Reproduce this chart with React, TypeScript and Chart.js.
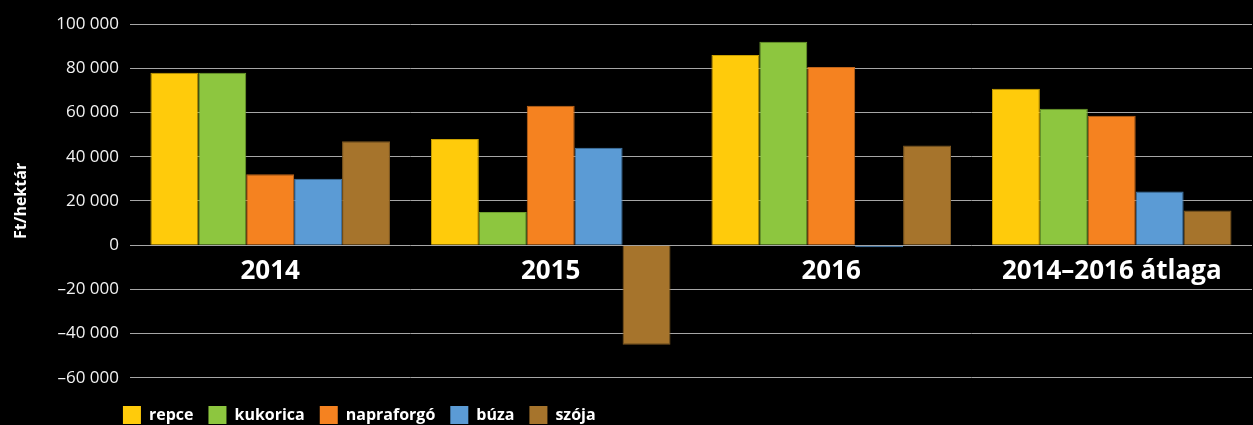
import React, { useEffect, useRef } from "react";
import { Chart, registerables } from "chart.js";

Chart.register(...registerables);

const categories = ["2014", "2015", "2016", "2014–2016 átlaga"];
const repce = [78000, 48000, 86000, 70700];
const kukorica = [78000, 15000, 92000, 61700];
const napraforgo = [32000, 63000, 80500, 58500];
const buza = [30000, 44000, -1000, 24300];
const szoja = [47000, -45000, 45000, 15700];
const seriesNames = ["repce", "kukorica", "napraforgó", "búza", "szója"];
const seriesColors = ["#FFCB0B", "#8DC63F", "#F58220", "#5B9BD5", "#A6742C"];
const borderColors = ["#C9A000", "#6E9E2E", "#C0651A", "#4079AB", "#7E5820"];
const yTicks = [-60000, -40000, -20000, 0, 20000, 40000, 60000, 80000, 100000];

const FONT = "'Open Sans', 'Noto Sans', sans-serif";

function fmt(v: number): string {
  const abs = Math.abs(v);
  const s = abs.toString().replace(/\B(?=(\d{3})+(?!\d))/g, " ");
  return v < 0 ? "–" + s : s;
}

const legendShift = {
  id: "legendShift",
  afterLayout(chart: any) {
    const lg = chart.legend;
    if (lg) {
      const dx = chart.chartArea.left - 22 - lg.left;
      lg.left += dx;
      lg.right += dx;
    }
  },
};

export default function App() {
  const ref = useRef<HTMLCanvasElement>(null);
  useEffect(() => {
    document.body.style.margin = "0";
    document.body.style.background = "#000";
    const values = [repce, kukorica, napraforgo, buza, szoja];
    const chart = new Chart(ref.current!, {
      type: "bar",
      data: {
        labels: categories,
        datasets: seriesNames.map((name, i) => ({
          label: name,
          data: values[i],
          backgroundColor: seriesColors[i],
          borderColor: borderColors[i],
          borderWidth: 1,
          categoryPercentage: 0.854,
          barPercentage: 1,
        })),
      },
      plugins: [legendShift],
      options: {
        animation: false,
        responsive: false,
        maintainAspectRatio: false,
        layout: { padding: { top: 24, left: 12, right: 1, bottom: -9 } },
        plugins: {
          tooltip: { enabled: false },
          legend: {
            position: "bottom",
            align: "start",
            fullSize: false,
            title: {
              display: true,
              text: "",
              font: { size: 1 },
              padding: { top: 0, bottom: 12 },
            },
            labels: {
              color: "#ffffff",
              font: { family: FONT, size: 16, weight: "bold" },
              boxWidth: 18,
              boxHeight: 18,
              padding: 15,
              generateLabels: () =>
                seriesNames.map((n, i) => ({
                  text: n,
                  fillStyle: seriesColors[i],
                  strokeStyle: seriesColors[i],
                  lineWidth: 0,
                  fontColor: "#ffffff",
                  hidden: false,
                  datasetIndex: i,
                })),
            },
          },
        },
        scales: {
          x: {
            type: "category",
            position: { y: 0 } as any,
            offset: true,
            grid: { display: false },
            border: { display: false },
            ticks: {
              color: "#ffffff",
              font: { family: FONT, size: 26, weight: "bold" },
              padding: 3,
              maxRotation: 0,
              autoSkip: false,
            },
          },
          y: {
            min: -60000,
            max: 100000,
            afterBuildTicks: (axis: any) => {
              axis.ticks = yTicks.map((v) => ({ value: v }));
            },
            grid: {
              color: "#a6a6a6",
              lineWidth: 1,
              drawTicks: false,
            },
            border: { display: false },
            ticks: {
              color: "#f2f2f2",
              font: { family: FONT, size: 17 },
              padding: 11,
              callback: (v: any) => fmt(Number(v)),
            },
            title: {
              display: true,
              text: "Ft/hektár",
              color: "#ffffff",
              font: { family: FONT, size: 16, weight: "bold" },
              padding: { top: 0, bottom: 14 },
            },
          },
        },
      },
    });
    return () => chart.destroy();
  }, []);
  return (
    <div style={{ position: "absolute", left: 0, top: 0, width: 1253, height: 425, background: "#000", overflow: "hidden" }}>
      <canvas ref={ref} width={1253} height={425} style={{ width: 1253, height: 425, display: "block" }} />
    </div>
  );
}
